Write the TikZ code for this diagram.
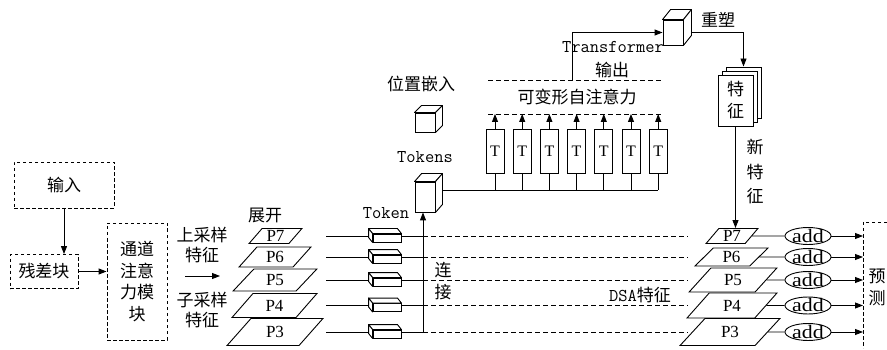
\documentclass[tikz,border=0pt]{standalone}
\usepackage{fontspec}
\setmainfont{Liberation Serif}
\newfontfamily\cjk{Noto Sans CJK SC}
\newfontfamily\addfont[FakeStretch=1.15]{Liberation Serif}
\usetikzlibrary{shapes.geometric,arrows.meta}
\tikzset{
  dbox/.style={draw, dash pattern=on 3.5pt off 2.5pt},
  dline/.style={dash pattern=on 5pt off 3pt},
  arr/.style={-{Triangle[length=8pt,width=6pt]}},
  para/.style={trapezium, trapezium left angle=52, trapezium right angle=128,
    trapezium stretches=true, draw, fill=white, inner sep=0pt,
    font=\fontsize{17}{17}\selectfont},
  tbox/.style={draw, fill=white, minimum width=18pt, minimum height=44pt,
    inner sep=0pt, font=\fontsize{16}{16}\selectfont},
  addn/.style={ellipse, draw, fill=white, minimum width=46pt, minimum height=14pt,
    inner sep=0pt, text height=12pt, text depth=0pt, font=\addfont\fontsize{19}{19}\selectfont},
  cn/.style={font=\cjk\fontsize{17}{21}\selectfont, align=center, inner sep=0pt},
  mn/.style={font=\ttfamily\fontsize{18}{18}\selectfont, inner sep=0pt},
  cubef/.style={draw, fill=white, inner sep=0pt},
  tokf/.style={draw, fill=white, inner sep=0pt, minimum width=28pt, minimum height=8pt},
  featn/.style={draw, fill=white, inner sep=0pt, minimum width=35pt, minimum height=51pt}
}
\newcommand\cubefaces[3]{%
  \filldraw[fill=white, line join=round] (#1.north west) -- ++(#2,-#3)
    -- ([shift={(#2,-#3)}]#1.north east) -- (#1.north east) -- cycle;
  \filldraw[fill=white, line join=round] (#1.north east) -- ([shift={(#2,-#3)}]#1.north east)
    -- ([shift={(#2,-#3)}]#1.south east) -- (#1.south east) -- cycle;}
\newcommand\tokfaces[1]{%
  \filldraw[fill=white, line join=round] (#1.north west) -- ++(-4,-5)
    -- ([shift={(-4,-5)}]#1.north east) -- (#1.north east) -- cycle;
  \filldraw[fill=white, line join=round] (#1.north west) -- ++(-4,-5)
    -- ([shift={(-4,-5)}]#1.south west) -- (#1.south west) -- cycle;}
\begin{document}
\begin{tikzpicture}[x=1pt,y=-1pt,line width=0.9pt]
\useasboundingbox (0,0) rectangle (887,350);

% ---- left part
\node[dbox, cn, minimum width=100pt, minimum height=46pt] (inp) at (64,185) {输入};
\node[dbox, cn, minimum width=68pt, minimum height=34pt] (res) at (44,271.5) {残差块};
\node[dbox, cn, minimum width=60pt, minimum height=117pt, font=\cjk\fontsize{17}{21.5}\selectfont] (cam) at (137,281.5) {通道\\注意\\力模\\块};
\draw[arr] (inp.south) -- (inp.south |- res.north);
\draw[arr] (res.east) -- (res.east -| cam.west);

\node[cn, font=\cjk\fontsize{17}{20}\selectfont] (upt) at (202,245) {上采样\\特征};
\node[cn, font=\cjk\fontsize{17}{20}\selectfont] (subt) at (202,310) {子采样\\特征};
\coordinate (ua1) at (185,276);
\coordinate (ua2) at (220,276);
\draw[arr] (ua1) -- (ua2);

\node[cn] (unf) at (265,215) {展开};
\node[para, minimum width=53pt, minimum height=15pt] (lp7) at (275.5,236) {P7};
\node[para, minimum width=72pt, minimum height=20pt] (lp6) at (275,257) {P6};
\node[para, minimum width=84pt, minimum height=22pt] (lp5) at (275,280) {P5};
\node[para, minimum width=85pt, minimum height=24pt] (lp4) at (274.5,305.5) {P4};
\node[para, minimum width=96pt, minimum height=27pt] (lp3) at (275,332) {P3};

% ---- token lines
\foreach \n/\y in {7/236,6/257,5/280,4/305.5,3/332} {
  \coordinate (ls\n) at (326,\y);
  \coordinate (j\n) at (423,\y);
  \coordinate (de\n) at (688,\y);
  \draw (ls\n) -- (j\n);
  \draw[dline] (j\n) -- (de\n);
  \node[tokf] (tk\n) at (387,\y+2) {};
  \tokfaces{tk\n}
}
\node[mn] (toklab) at (386,213) {Token};
\node[cn, font=\cjk\fontsize{17}{22}\selectfont] (conn) at (443,281) {连\\接};
\node[inner sep=0pt] (dsa) at (640,295) {{\ttfamily\fontsize{18}{18}\selectfont DSA}{\cjk\fontsize{17}{17}\selectfont 特征}};

% ---- cubes
\node[cubef, minimum width=20pt, minimum height=30pt] (tokc) at (425,197) {};
\cubefaces{tokc}{7}{8}
\node[cubef, minimum width=20pt, minimum height=19pt] (posc) at (425,122.5) {};
\cubefaces{posc}{7}{7}
\node[mn] (tokslab) at (425,157) {Tokens};
\node[cn] (poslab) at (421,84) {位置嵌入};
\draw[arr] (j3) -- (j3 |- tokc.south);

% ---- transformer
\coordinate (bus) at (658,190);
\draw ([xshift=7pt]tokc.east |- bus) -- (bus);
\coordinate (dl1a) at (488,114);
\coordinate (dl1b) at (663,114);
\coordinate (dl2a) at (488,80);
\coordinate (dl2b) at (663,80);
\draw[dline] (dl1a) -- (dl1b);
\draw[dline] (dl2a) -- (dl2b);
\foreach \i in {0,...,6} {
  \node[tbox] (T\i) at (495+27.2*\i,151) {T};
  \draw (T\i.south) -- (T\i.south |- bus);
  \draw[arr] (T\i.north) -- (T\i.north |- dl1a);
}
\node[cn] (dsat) at (577,97) {可变形自注意力};
\coordinate (tout) at (572,80);
\node[cubef, minimum width=20pt, minimum height=25pt] (rc) at (673,32.5) {};
\draw[arr] (tout) |- (rc.west);
\node[mn] (trl) at (613,47) {Transformer};
\node[cn] (outl) at (612,70) {输出};

% ---- features
\node[featn] (f3) at (743.5,92.5) {};
\node[featn] (f2) at (739.5,96.5) {};
\node[featn, cn, font=\cjk\fontsize{17}{22}\selectfont] (f1) at (735.5,100.5) {特\\征};
\draw[arr] ([xshift=8pt]rc.east) -| (f3.north);
\cubefaces{rc}{8}{10}
\node[cn] (rsl) at (718,20) {重塑};
\node[cn, font=\cjk\fontsize{17}{24.5}\selectfont] (newf) at (755,172) {新\\特\\征};

% ---- right pyramid
\node[para, minimum width=52pt, minimum height=15pt] (rp7) at (732,236) {P7};
\node[para, minimum width=73pt, minimum height=18pt] (rp6) at (731.5,257) {P6};
\node[para, minimum width=88pt, minimum height=24pt] (rp5) at (733,280) {P5};
\node[para, minimum width=90pt, minimum height=25pt] (rp4) at (732,305.5) {P4};
\node[para, minimum width=100pt, minimum height=27pt] (rp3) at (730,332) {P3};
\draw[arr] (f1.south) -- (f1.south |- rp7.north);

\coordinate (predL) at (863,222);
\draw[dbox] (887,222) -- (predL) -- (863,348);
\node[cn, font=\cjk\fontsize{17}{22}\selectfont] (predt) at (877,287) {预\\测};
\foreach \n/\y in {7/236,6/257,5/280,4/305.5,3/332} {
  \node[addn] (a\n) at (808,\y) {add};
  \draw (rp\n.east) -- (a\n.west);
  \draw[arr] (a\n.east) -- (a\n.east -| predL);
}
\end{tikzpicture}
\end{document}
